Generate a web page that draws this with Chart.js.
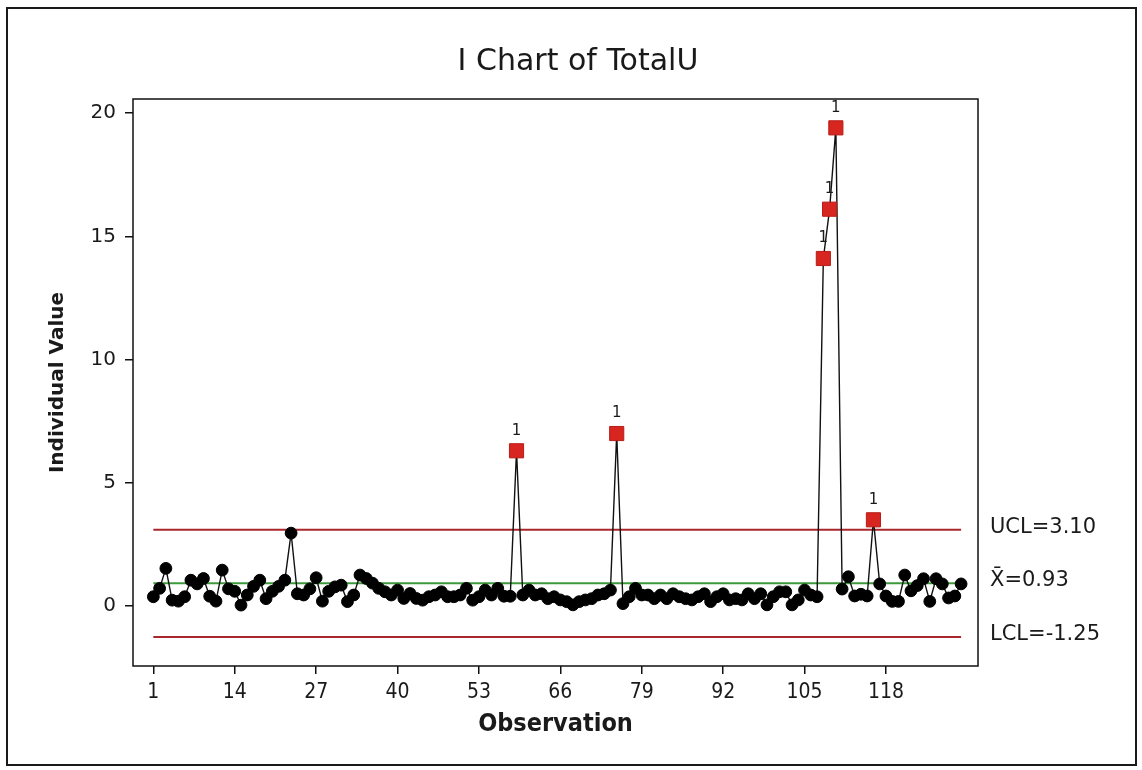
<!DOCTYPE html>
<html><head><meta charset="utf-8">
<script src="https://cdn.jsdelivr.net/npm/chart.js@4/dist/chart.umd.min.js"></script>
<style>html,body{margin:0;padding:0;background:#fff;}canvas{display:block;}</style>
</head><body>
<canvas id="c" width="1142" height="770"></canvas>
<script>
// ---- data ----
const observations = Array.from({length: 130}, (_, i) => i + 1);
const totalU = [
  0.38, 0.72, 1.53, 0.24, 0.20, 0.38, 1.05, 0.90, 1.12, 0.40,
  0.20, 1.46, 0.70, 0.60, 0.04, 0.45, 0.80, 1.05, 0.30, 0.60,
  0.80, 1.05, 2.96, 0.50, 0.45, 0.70, 1.15, 0.20, 0.60, 0.78,
  0.85, 0.18, 0.45, 1.26, 1.12, 0.93, 0.72, 0.58, 0.45, 0.65,
  0.31, 0.51, 0.31, 0.24, 0.38, 0.45, 0.58, 0.38, 0.38, 0.45,
  0.72, 0.24, 0.38, 0.65, 0.45, 0.72, 0.40, 0.40, 6.30, 0.45,
  0.65, 0.45, 0.50, 0.30, 0.38, 0.25, 0.18, 0.05, 0.18, 0.25,
  0.30, 0.45, 0.50, 0.65, 7.00, 0.10, 0.38, 0.72, 0.45, 0.45,
  0.30, 0.45, 0.30, 0.50, 0.38, 0.30, 0.25, 0.38, 0.50, 0.18,
  0.38, 0.50, 0.25, 0.30, 0.25, 0.50, 0.30, 0.50, 0.05, 0.38,
  0.58, 0.58, 0.05, 0.25, 0.65, 0.45, 0.38, 14.10, 16.10, 19.40,
  0.69, 1.19, 0.41, 0.48, 0.41, 3.50, 0.90, 0.41, 0.19, 0.19,
  1.26, 0.62, 0.83, 1.11, 0.19, 1.11, 0.90, 0.33, 0.41, 0.90
];
const xTickLabels = [1, 14, 27, 40, 53, 66, 79, 92, 105, 118];
const yTickLabels = [0, 5, 10, 15, 20];
const limitNames = ['UCL', 'Mean', 'LCL'];
const limitValues = [3.10, 0.93, -1.25];
const limitLabels = ['UCL=3.10', 'X\u0304=0.93', 'LCL=-1.25'];
const chartTitle = 'I Chart of TotalU';
const xTitle = 'Observation';
const yTitle = 'Individual Value';

const UCL = limitValues[0];
const isOut = c => c.raw && c.raw.y > UCL;
const firstObs = observations[0], lastObs = observations[observations.length - 1];

const limitColors = ['#a8262c', '#3c9a3c', '#a8262c'];

const decorPlugin = {
  id: 'decor',
  beforeDraw(chart) {
    const g = chart.ctx;
    g.save();
    g.fillStyle = '#ffffff';
    g.fillRect(0, 0, chart.width, chart.height);
    g.strokeStyle = '#1a1a1a';
    g.lineWidth = 2;
    g.strokeRect(7, 8, 1129, 757);
    // title
    g.fillStyle = '#1a1a1a';
    g.font = '30px "DejaVu Sans", Verdana, sans-serif';
    g.textAlign = 'center';
    g.textBaseline = 'middle';
    g.fillText(chartTitle, 578, 62);
    g.restore();
  },
  afterDraw(chart) {
    const g = chart.ctx, a = chart.chartArea, ys = chart.scales.y;
    g.save();
    g.strokeStyle = '#111';
    g.lineWidth = 1.5;
    g.strokeRect(a.left, a.top, a.right - a.left, a.bottom - a.top);
    // limit labels
    g.fillStyle = '#1a1a1a';
    g.font = '21px "DejaVu Sans", Verdana, sans-serif';
    g.textAlign = 'left';
    g.textBaseline = 'middle';
    limitValues.forEach((v, i) => {
      g.fillText(limitLabels[i], a.right + 12, ys.getPixelForValue(v) - 2.5);
    });
    // test-failure labels
    const meta = chart.getDatasetMeta(0);
    g.font = '15px "DejaVu Sans", Verdana, sans-serif';
    g.textAlign = 'center';
    meta.data.forEach((pt, i) => {
      if (totalU[i] > UCL) g.fillText('1', pt.x, pt.y - 20);
    });
    g.restore();
  }
};

new Chart(document.getElementById('c'), {
  type: 'line',
  data: {
    datasets: [
      {
        label: 'TotalU',
        data: observations.map((o, i) => ({x: o, y: totalU[i]})),
        borderColor: '#111',
        borderWidth: 1.4,
        tension: 0,
        pointStyle: c => isOut(c) ? 'rect' : 'circle',
        pointRadius: c => isOut(c) ? 10 : 5.9,
        pointBackgroundColor: c => isOut(c) ? '#d6261f' : '#000',
        pointBorderColor: c => isOut(c) ? '#b81c17' : '#000',
        pointBorderWidth: 1,
        order: 0
      },
      ...limitValues.map((v, i) => ({
        label: limitNames[i],
        data: [{x: firstObs, y: v}, {x: lastObs, y: v}],
        borderColor: limitColors[i],
        borderWidth: 2,
        pointRadius: 0,
        order: 1
      }))
    ]
  },
  options: {
    responsive: false,
    animation: false,
    devicePixelRatio: 1,
    events: [],
    layout: {padding: {left: 0, right: 164, top: 99, bottom: 0}},
    plugins: {
      legend: {display: false},
      tooltip: {enabled: false},
      title: {display: false}
    },
    scales: {
      x: {
        type: 'linear',
        min: -2.25,
        max: 132.7,
        afterBuildTicks: s => { s.ticks = xTickLabels.map(v => ({value: v})); },
        afterFit: s => { s.height = 104; },
        border: {display: false},
        grid: {drawOnChartArea: false, drawTicks: true, tickLength: 8, color: '#111', lineWidth: 1.5},
        ticks: {
          color: '#1a1a1a',
          autoSkip: false, maxRotation: 0, padding: 6,
          font: {family: '"Liberation Sans Narrow", "DejaVu Sans Condensed", sans-serif', size: 21}
        },
        title: {
          display: true, text: xTitle, color: '#1a1a1a',
          font: {family: '"Liberation Sans Narrow", "DejaVu Sans Condensed", sans-serif', size: 25, weight: 'bold'},
          padding: {top: 0, bottom: 31}
        }
      },
      y: {
        type: 'linear',
        min: -2.43,
        max: 20.57,
        afterBuildTicks: s => { s.ticks = yTickLabels.map(v => ({value: v})); },
        afterFit: s => { s.width = 133; },
        border: {display: false},
        grid: {drawOnChartArea: false, drawTicks: true, tickLength: 8, color: '#111', lineWidth: 1.5},
        ticks: {
          color: '#1a1a1a', padding: 9,
          font: {family: '"DejaVu Sans", Verdana, sans-serif', size: 20}
        },
        title: {
          display: true, text: yTitle, color: '#1a1a1a',
          font: {family: '"DejaVu Sans", Verdana, sans-serif', size: 20, weight: 'bold'},
          padding: {top: 46, bottom: 0}
        }
      }
    }
  },
  plugins: [decorPlugin]
});
</script>
</body></html>
